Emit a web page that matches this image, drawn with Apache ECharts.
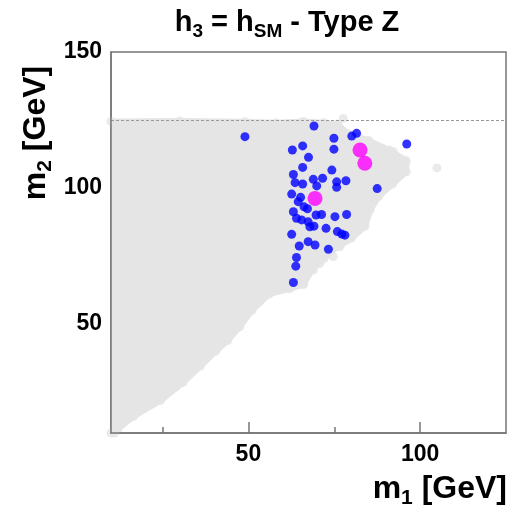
<!DOCTYPE html>
<html>
<head>
<meta charset="utf-8">
<script src="https://cdn.jsdelivr.net/npm/echarts@6/dist/echarts.min.js"></script>
<style>html,body{margin:0;padding:0;background:#fff;}#c{width:513px;height:513px;}</style>
</head>
<body>
<div id="c"></div>
<script>
// axis ranges and ticks
const xRange = [10, 125];
const yRange = [10, 150];
const xMajorTicks = [50, 100];
const xMinorTicks = [25, 75];
const yTickLabels = [50, 100, 150];
const hSMmass = 125;

// boundary of the dense grey (all points) cloud
const cloudM1 = [10, 30, 49, 58, 66, 72, 76, 79, 85, 91, 96, 96, 92, 88, 85.5, 84, 80, 76, 72, 68.5, 66, 62, 56, 51, 47.5, 44, 40.5, 36, 31, 24.5, 16.5, 12, 11, 10];
const cloudM2 = [124.5, 124.6, 124.4, 124.0, 124.5, 124.0, 123.5, 120, 117.5, 114, 110, 106, 101.5, 97, 92, 86, 81.5, 78.5, 74, 70, 64.5, 63, 61, 55, 49, 44, 40, 34.5, 28.5, 22, 16, 11.5, 10, 10];

// isolated grey points at the cloud edge
const greyM1 = [104.9, 92.2, 95.1, 89.3, 91.7, 90.2, 87.8, 86.4, 84.9, 83.5, 83.5, 78.6, 76.7, 74.7, 70.8, 68.9, 66.0, 77.6];
const greyM2 = [107.4, 113.4, 107.9, 110.3, 104.8, 103.6, 103.0, 99.3, 96.2, 91.9, 87.0, 80.9, 78.5, 74.8, 72.3, 69.9, 65.0, 125.6];

// blue points
const blueM1 = [49.0, 69.1, 74.9, 80.1, 81.5, 96.1, 62.8, 65.8, 74.9, 67.5, 65.8, 63.1, 74.3, 63.6, 65.8, 68.9, 71.6, 69.9, 75.7, 78.4, 75.7, 87.5, 62.6, 65.2, 64.5, 66.2, 67.2, 63.1, 64.0, 65.5, 67.4, 67.9, 69.1, 69.7, 71.3, 75.2, 78.6, 72.6, 75.9, 77.2, 78.1, 62.6, 64.8, 67.4, 69.4, 73.3, 64.0, 63.8, 63.1];
const blueM2 = [118.9, 122.8, 118.3, 119.1, 120.1, 116.2, 114.0, 115.5, 114.3, 111.3, 107.6, 105.0, 106.6, 102.0, 101.5, 103.2, 103.6, 100.8, 102.3, 102.7, 100.3, 99.8, 97.8, 96.6, 95.0, 93.1, 92.4, 91.3, 88.9, 88.3, 87.6, 85.8, 86.0, 90.1, 90.3, 89.5, 90.3, 85.2, 84.0, 83.1, 82.7, 83.0, 78.7, 80.3, 79.1, 77.5, 74.5, 71.3, 65.3];

// magenta points
const pinkM1 = [82.5, 83.9, 69.4];
const pinkM2 = [114.0, 109.1, 96.2];

const zip = (a, b) => a.map((v, i) => [v, b[i]]);
const FONT = 'Liberation Sans, Arial, Helvetica, sans-serif';
const AXIS_C = '#767676';

const chart = echarts.init(document.getElementById('c'), null, {renderer: 'canvas'});

const rich = (f, s) => ({
  b: {fontSize: f, fontWeight: 'bold', fontFamily: FONT, color: '#000', lineHeight: f + 8, verticalAlign: 'middle'},
  s: {fontSize: s, fontWeight: 'bold', fontFamily: FONT, color: '#000', lineHeight: s, verticalAlign: 'bottom'}
});

const option = {
  animation: false,
  grid: {left: 111, right: 7, top: 52, bottom: 80, show: true, borderColor: AXIS_C, borderWidth: 1.5, backgroundColor: 'transparent'},
  xAxis: [{
    type: 'value', min: xRange[0], max: xRange[1], position: 'bottom', offset: 0, z: 10,
    axisLine: {show: true, lineStyle: {color: AXIS_C, width: 1.5}},
    axisTick: {show: true, inside: true, length: 11, customValues: xMajorTicks, lineStyle: {color: AXIS_C, width: 1.5}},
    axisLabel: {customValues: xMajorTicks, fontSize: 23, fontWeight: 'bold', fontFamily: FONT, color: '#000', margin: 10},
    splitLine: {show: false}
  }, {
    type: 'value', min: xRange[0], max: xRange[1], position: 'bottom', offset: 0, z: 10,
    axisLine: {show: false},
    axisTick: {show: true, inside: true, length: 6, customValues: xMinorTicks, lineStyle: {color: AXIS_C, width: 1.5}},
    axisLabel: {show: false},
    splitLine: {show: false}
  }],
  yAxis: {
    type: 'value', min: yRange[0], max: yRange[1], z: 10,
    axisLine: {show: true, lineStyle: {color: AXIS_C, width: 1.5}},
    axisTick: {show: false},
    axisLabel: {customValues: yTickLabels, fontSize: 23, fontWeight: 'bold', fontFamily: FONT, color: '#000', margin: 9},
    splitLine: {show: false}
  },
  graphic: [
    {type: 'text', x: 287, y: 23, z: 100, style: {text: '{b|h}{s|3}{b| = h}{s|SM}{b| - Type Z}', rich: rich(29, 19), align: 'center', verticalAlign: 'middle'}},
    {type: 'text', x: 36, y: 133, rotation: Math.PI / 2, z: 100, style: {text: '{b|m}{s|2}{b| [GeV]}', rich: rich(32, 21), align: 'center', verticalAlign: 'middle'}},
    {type: 'text', x: 507, y: 489, z: 100, style: {text: '{b|m}{s|1}{b| [GeV]}', rich: rich(32, 21), align: 'right', verticalAlign: 'middle'}}
  ],
  series: [
    {
      type: 'custom', name: 'cloud', silent: true, clip: true, z: 1,
      data: [[cloudM1[0], cloudM2[0]]],
      renderItem: function (params, api) {
        const pts = cloudM1.map((x, i) => api.coord([x, cloudM2[i]]));
        return {type: 'polygon', shape: {points: pts}, style: {fill: '#e5e5e5', stroke: '#e5e5e5', lineWidth: 6, lineJoin: 'round'}};
      }
    },
    {
      type: 'scatter', name: 'edge', silent: true, z: 2,
      symbolSize: 9,
      itemStyle: {color: '#e5e5e5'},
      data: zip(cloudM1, cloudM2).concat(zip(greyM1, greyM2)),
      markLine: {
        silent: true, symbol: 'none', label: {show: false},
        lineStyle: {type: [3, 2], color: '#9a9a9a', width: 1},
        data: [{yAxis: hSMmass}]
      }
    },
    {
      type: 'scatter', name: 'blue', z: 3,
      symbolSize: 9,
      itemStyle: {color: '#0000ff'},
      data: zip(blueM1, blueM2)
    },
    {
      type: 'scatter', name: 'magenta', z: 4,
      symbolSize: 15,
      itemStyle: {color: '#ff00ff'},
      data: zip(pinkM1, pinkM2)
    }
  ]
};
chart.setOption(option);
</script>
</body>
</html>
